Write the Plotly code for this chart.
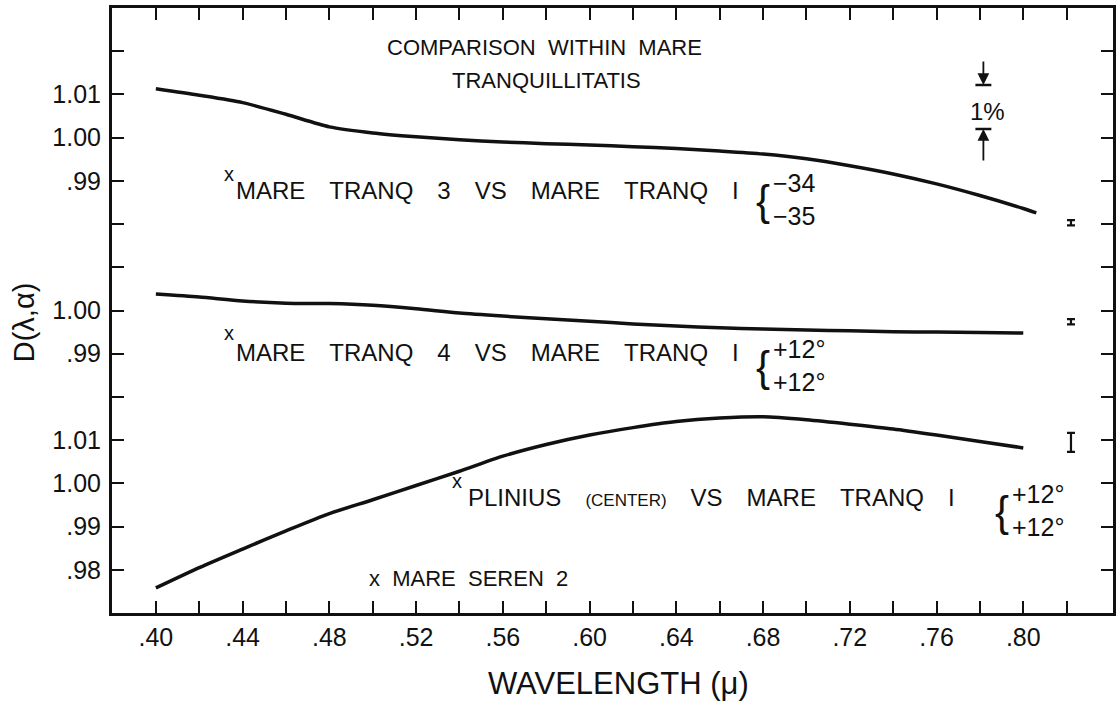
import plotly.graph_objects as go

# ---------------- data ----------------
wavelength = [0.40, 0.42, 0.44, 0.46, 0.48, 0.50, 0.52, 0.54, 0.56, 0.58, 0.60,
              0.62, 0.64, 0.66, 0.68, 0.70, 0.72, 0.74, 0.76, 0.78, 0.80]
wavelength_top = wavelength + [0.806]

tranq3_vs_tranq1 = [1.0113, 1.0098, 1.0081, 1.0054, 1.0025, 1.0011, 1.0002, 0.9995,
                    0.9990, 0.9986, 0.9983, 0.9979, 0.9975, 0.9969, 0.9962, 0.9951,
                    0.9935, 0.9916, 0.9893, 0.9866, 0.9836, 0.9826]
tranq4_vs_tranq1 = [1.0038, 1.0031, 1.0022, 1.0017, 1.0016, 1.0012, 1.0004, 0.9994,
                    0.9987, 0.9981, 0.9975, 0.9969, 0.9964, 0.9960, 0.9957, 0.9955,
                    0.9953, 0.9951, 0.9950, 0.9949, 0.9948]
plinius_vs_tranq1 = [0.9758, 0.9805, 0.9848, 0.9890, 0.9930, 0.9962, 0.9995, 1.0028,
                     1.0063, 1.0090, 1.0112, 1.0129, 1.0143, 1.0151, 1.0154, 1.0147,
                     1.0137, 1.0126, 1.0112, 1.0097, 1.0082]

# each panel's D value is drawn on a shared stacked axis: plot = (D - base) * 100
base_top, base_mid, base_bot = 0.89, 0.93, 0.97

err_wavelength = 0.822
err_center = [0.9803, 0.9974, 1.0095]
err_half = [0.0006, 0.0006, 0.0022]

x_tick_values = [0.40, 0.42, 0.44, 0.46, 0.48, 0.50, 0.52, 0.54, 0.56, 0.58, 0.60,
                 0.62, 0.64, 0.66, 0.68, 0.70, 0.72, 0.74, 0.76, 0.78, 0.80, 0.82]
x_tick_text = [".40", "", ".44", "", ".48", "", ".52", "", ".56", "", ".60",
               "", ".64", "", ".68", "", ".72", "", ".76", "", ".80", ""]
y_tick_values = [1, 2, 3, 4, 5, 6, 7, 8, 9, 10, 11, 12, 13]
y_tick_text = [".98", ".99", "1.00", "1.01", "", ".99", "1.00", "", "", ".99", "1.00", "1.01", ""]

# ---------------- geometry helpers (layout only) ----------------
W, H = 1119, 704
L_PX, R_PX, T_PX, B_PX = 112, 1116, 8, 613
X0_PX, X_PER = 156.0, 87.0 / 0.04      # x pixel of .40, pixels per micron
Y_PER = (B_PX - T_PX) / 14.0           # pixels per 0.01 unit


def px_x(px):
    return 0.40 + (px - X0_PX) / X_PER


def px_y(py):
    return (B_PX - py) / Y_PER


def paper_x(px):
    return (px - L_PX) / (R_PX - L_PX)


def paper_y(py):
    return (B_PX - py) / (B_PX - T_PX)


def to_plot(vals, base):
    return [(v - base) * 100 for v in vals]


FONT = "Liberation Sans, Arial, sans-serif"
BLACK = "#111111"

fig = go.Figure()
for xs, ys, base in [(wavelength_top, tranq3_vs_tranq1, base_top),
                     (wavelength, tranq4_vs_tranq1, base_mid),
                     (wavelength, plinius_vs_tranq1, base_bot)]:
    fig.add_trace(go.Scatter(x=xs, y=to_plot(ys, base), mode="lines",
                             line=dict(color=BLACK, width=3.5, shape="spline", smoothing=0.7),
                             hoverinfo="skip", showlegend=False))

bases = [base_top, base_mid, base_bot]
fig.add_trace(go.Scatter(
    x=[err_wavelength] * 3,
    y=[(c - b) * 100 for c, b in zip(err_center, bases)],
    mode="markers", marker=dict(size=2, color=BLACK),
    error_y=dict(type="data", array=[h * 100 for h in err_half], color=BLACK,
                 thickness=2.2, width=4),
    hoverinfo="skip", showlegend=False))

ann = []


def text(px, py, s, size=24, xanchor="left", yanchor="middle"):
    ann.append(dict(x=px_x(px), y=px_y(py), xref="x", yref="y", text=s, showarrow=False,
                    xanchor=xanchor, yanchor=yanchor,
                    font=dict(family=FONT, size=size, color=BLACK)))


G = "\u2002\u2002"
g = "\u00a0\u00a0"
# title
text(546, 47, "COMPARISON" + g + "WITHIN" + g + "MARE", 22, "center")
text(548, 80, "TRANQUILLITATIS", 22, "center")

# curve labels
text(222, 174, "x", 20)
text(234, 190, "MARE" + G + "TRANQ" + G + "3" + G + "VS" + G + "MARE" + G + "TRANQ" + G + "I", 24)
text(756, 200, "{", 42)
text(773, 199, "\u221234<br>\u221235", 25)

text(222, 333, "x", 20)
text(234, 352, "MARE" + G + "TRANQ" + G + "4" + G + "VS" + G + "MARE" + G + "TRANQ" + G + "I", 24)
text(756, 366, "{", 42)
text(773, 365, "+12\u00b0<br>+12\u00b0", 25)

text(451, 481, "x", 20)
text(467, 497, "PLINIUS" + G + "<span style=\"font-size:17px\">(CENTER)</span>" + G + "VS" + G
     + "MARE" + G + "TRANQ" + G + "I", 24)
text(996, 511, "{", 42)
text(1013, 510, "+12\u00b0<br>+12\u00b0", 25)

text(368, 578, "x" + g + "MARE" + g + "SEREN" + g + "2", 22)

# 1% scale marker
bar_x = px_x(986)
text(990, 111, "1%", 24, "center")
for tail_py, head_py in [(60, 85), (162, 129)]:
    ann.append(dict(x=bar_x, y=px_y(head_py), ax=bar_x, ay=px_y(tail_py),
                    xref="x", yref="y", axref="x", ayref="y", text="",
                    showarrow=True, arrowhead=2, arrowsize=1.3, arrowwidth=1.8,
                    arrowcolor=BLACK))
shapes = []
for py in (85, 129):
    shapes.append(dict(type="line", xref="x", yref="y",
                       x0=px_x(978), x1=px_x(994), y0=px_y(py), y1=px_y(py),
                       line=dict(color=BLACK, width=2.5)))

# axis titles (paper coordinates)
ann.append(dict(x=paper_x(24), y=paper_y(322), xref="paper", yref="paper", text="D(\u03bb,\u03b1)",
                showarrow=False, textangle=-90, xanchor="center", yanchor="middle",
                font=dict(family=FONT, size=29, color=BLACK)))
ann.append(dict(x=paper_x(620), y=paper_y(683), xref="paper", yref="paper",
                text="WAVELENGTH\u00a0(\u03bc)",
                showarrow=False, xanchor="center", yanchor="middle",
                font=dict(family=FONT, size=31, color=BLACK)))

fig.update_layout(
    width=W, height=H,
    margin=dict(l=L_PX, r=W - R_PX, t=T_PX, b=H - B_PX),
    paper_bgcolor="white", plot_bgcolor="white",
    annotations=ann, shapes=shapes,
    xaxis=dict(range=[px_x(L_PX), px_x(R_PX)], tickvals=x_tick_values, ticktext=x_tick_text,
               ticks="inside", ticklen=12, tickwidth=2.2, tickcolor=BLACK,
               showline=True, linewidth=3, linecolor=BLACK, mirror="ticks",
               showgrid=False, zeroline=False, ticklabelstandoff=0,
               tickfont=dict(family=FONT, size=25, color=BLACK)),
    yaxis=dict(range=[0, 14], tickvals=y_tick_values, ticktext=y_tick_text,
               ticks="inside", ticklen=12, tickwidth=2.2, tickcolor=BLACK,
               showline=True, linewidth=3, linecolor=BLACK, mirror="ticks",
               showgrid=False, zeroline=False, ticklabelstandoff=3,
               tickfont=dict(family=FONT, size=25, color=BLACK)),
)

fig.write_html("out.html")
